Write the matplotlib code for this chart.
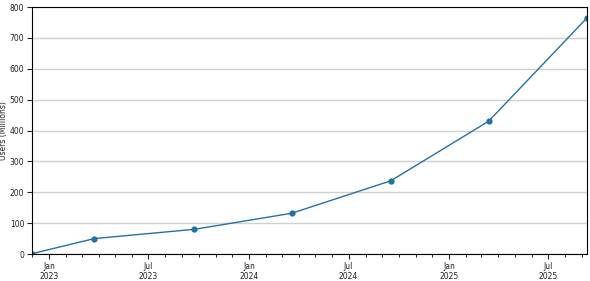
import matplotlib
matplotlib.use("Agg")
import matplotlib.pyplot as plt
import matplotlib.dates as mdates
import pandas as pd

# data
dates = pd.to_datetime(["2022-11-30", "2023-03-24", "2023-09-23", "2024-03-19",
                        "2024-09-16", "2025-03-14", "2025-09-10"])
users = [1, 50, 80, 132, 237, 430, 765]

fig = plt.figure(figsize=(5.9, 2.81), dpi=100)
ax = fig.add_axes([0.054, 0.096, 0.941, 0.879])

ax.plot(dates, users, color="#2471a3", lw=1, marker="o", ms=3.5)

ax.set_xlim(dates[0], dates[-1])
ax.set_ylim(0, 800)
ax.set_yticks(range(0, 801, 100))
ax.yaxis.grid(True, color="#d0d0d0", lw=1)
ax.set_axisbelow(True)

ax.xaxis.set_major_locator(mdates.MonthLocator(bymonth=[1, 7]))
ax.xaxis.set_minor_locator(mdates.MonthLocator())
ax.xaxis.set_major_formatter(mdates.DateFormatter("%b\n%Y"))

ax.tick_params(labelsize=5.5, length=3.5, pad=2, colors="#222222")
ax.tick_params(which="minor", length=2)
ax.set_ylabel("Users (Millions)", fontsize=5.5, color="#222222")
ax.yaxis.set_label_coords(-0.043, 0.5)

fig.savefig("out.png", dpi=100)
